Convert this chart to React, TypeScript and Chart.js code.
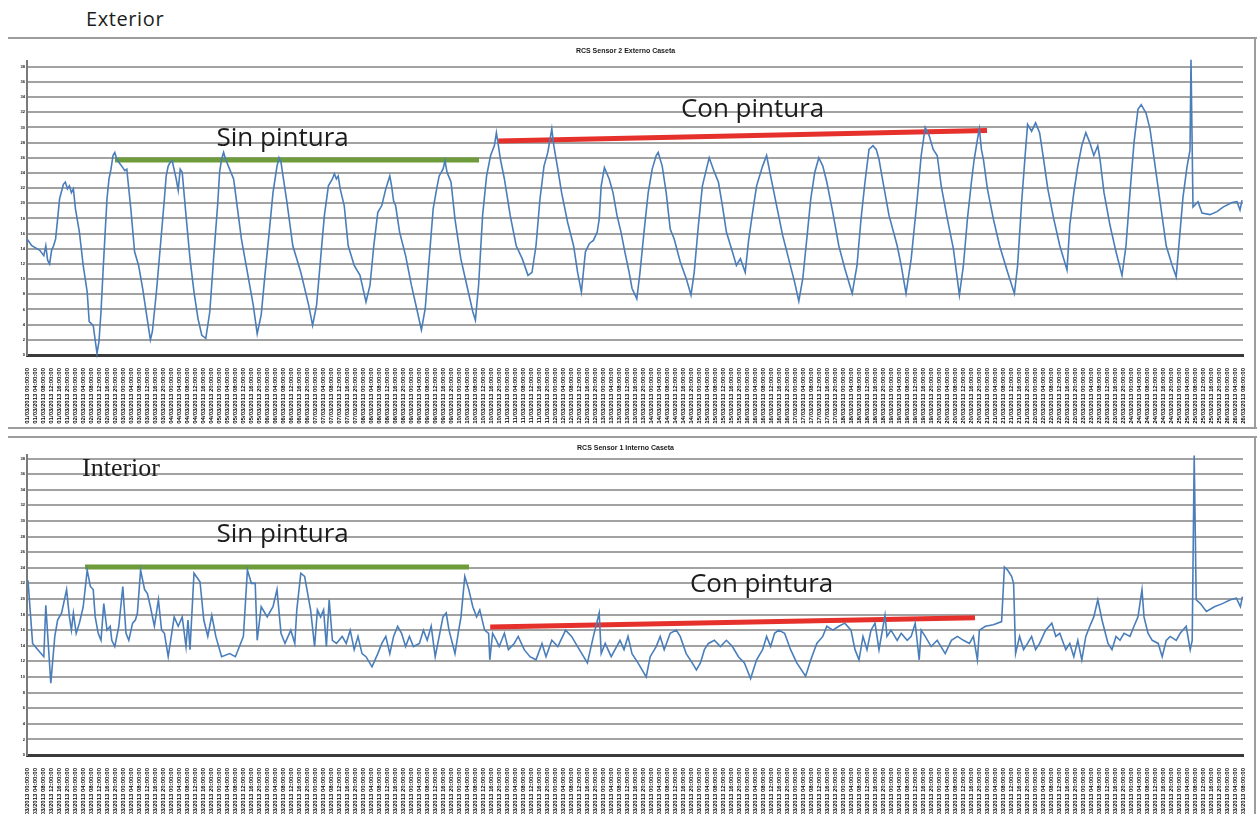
import React, { useEffect, useRef } from "react";
import { Chart, registerables } from "chart.js";

Chart.register(...registerables);

// ---------- data ----------
const extTitle = "RCS Sensor 2 Externo Caseta";
const intTitle = "RCS Sensor 1 Interno Caseta";

// exterior sensor: hour index, temperature
const extHours = [
  0, 2.4, 6.4, 8.4, 9.4, 10.3, 11.3, 12.3, 13.3, 14.3, 15.3, 16.3, 18.2, 19.2, 20.2, 21.2, 22.2, 23.2, 24.2, 26.2,
  28.1, 30.1, 31.1, 33.1, 35.0, 36.0, 37.0, 38.0, 39.0, 40.0, 41.0, 42.0, 43.0, 43.9, 44.9, 45.9, 47.9, 48.9, 49.9, 51.9,
  53.8, 55.8, 57.8, 59.8, 61.7, 62.7, 64.7, 66.7, 68.7, 69.6, 70.6, 71.6, 72.6, 74.6, 75.6, 76.6, 77.6, 79.5, 81.5, 83.5,
  85.5, 87.4, 89.4, 91.4, 93.4, 95.4, 96.3, 97.3, 98.3, 99.3, 101.3, 103.3, 104.2, 107.2, 110.2, 113.1, 115.1, 117.1, 119.1, 121.1,
  123.0, 125.0, 126.0, 127.0, 128.0, 130.0, 132.9, 136.9, 140.8, 142.8, 144.8, 146.8, 148.7, 150.7, 152.7, 153.7, 154.7, 155.6, 156.6, 158.6,
  160.6, 163.6, 166.5, 169.5, 171.5, 173.4, 175.4, 177.4, 179.4, 181.4, 182.3, 183.3, 184.3, 186.3, 189.3, 192.2, 195.2, 197.2, 199.1, 201.1,
  203.1, 205.1, 206.1, 208.0, 209.0, 210.0, 212.0, 214.0, 216.9, 219.9, 222.9, 224.2, 225.8, 227.8, 229.8, 231.8, 233.7, 234.7, 235.7, 236.7,
  238.7, 241.6, 244.6, 247.6, 250.5, 252.5, 254.5, 256.5, 258.5, 260.4, 262.4, 263.4, 265.4, 267.3, 270.3, 273.3, 275.3, 277.2, 279.2, 281.2,
  283.2, 285.1, 286.1, 287.1, 288.7, 291.1, 293.0, 295.0, 297.0, 299.0, 301.0, 302.5, 304.9, 306.5, 308.5, 310.6, 312.6, 314.6, 315.6, 317.6,
  319.6, 321.6, 323.6, 326.6, 329.6, 332.0, 333.6, 335.7, 337.7, 339.7, 341.1, 343.7, 345.7, 347.7, 349.7, 352.7, 354.7, 356.7, 359.1, 360.8,
  362.8, 364.8, 367.8, 369.8, 371.8, 374.8, 377.8, 380.8, 383.8, 385.9, 387.9, 389.9, 391.9, 393.9, 395.9, 397.9, 399.9, 402.9, 405.9, 408.9,
  412.6, 415.0, 417.0, 419.0, 421.0, 423.0, 424.6, 426.0, 428.0, 431.0, 435.1, 437.1, 439.5, 442.1, 445.1, 447.1, 449.1, 451.1, 453.1, 455.1,
  457.1, 460.2, 463.2, 466.2, 468.2, 470.2, 472.2, 473.6, 475.2, 476.2, 477.2, 478.2, 480.2, 483.2, 486.3, 490.3, 493.7, 495.3, 497.3, 499.3,
  500.3, 502.3, 504.3, 506.3, 508.3, 510.4, 513.4, 516.4, 520.0, 521.4, 523.4, 525.4, 527.4, 529.4, 531.4, 533.4, 535.4, 536.5, 538.5, 541.5,
  544.5, 547.5, 549.5, 551.5, 553.5, 555.5, 557.1, 559.5, 561.5, 563.6, 566.6, 569.6, 572.6, 574.6, 578.0, 580.0, 581.5, 582.0, 583.0, 585.5,
  587.5, 591.5, 595.0, 598.0, 602.5, 605.0, 606.5, 607.5,
];
const extTemps = [
  15.3, 14.4, 13.8, 13.1, 14.4, 12.5, 12.0, 13.8, 14.4, 15.3, 17.9, 20.6, 22.5, 22.8, 21.9, 22.3, 21.4, 21.9, 19.3, 16.2,
  11.8, 8.3, 4.4, 3.9, 0.2, 1.8, 5.7, 10.9, 15.8, 20.6, 23.2, 24.5, 26.3, 26.7, 25.8, 25.4, 24.7, 24.3, 24.5, 19.3,
  13.6, 11.8, 8.8, 5.3, 2.0, 3.1, 8.3, 14.4, 20.6, 23.6, 24.9, 25.4, 25.6, 23.2, 21.7, 24.5, 24.1, 18.4, 12.7, 8.3,
  4.8, 2.6, 2.2, 5.7, 13.1, 20.1, 24.1, 25.8, 26.7, 25.8, 24.5, 23.2, 21.4, 15.3, 10.9, 6.6, 2.8, 5.3, 10.9, 16.2,
  21.4, 24.9, 26.0, 25.4, 23.6, 20.1, 14.4, 10.9, 6.6, 3.9, 6.6, 12.7, 18.4, 22.3, 23.2, 23.9, 23.2, 23.6, 21.9, 19.7,
  14.4, 11.8, 10.5, 7.0, 9.2, 14.4, 18.8, 19.7, 21.9, 23.6, 22.3, 20.3, 19.7, 16.2, 13.1, 9.2, 5.7, 3.3, 6.1, 12.7,
  19.3, 22.3, 23.6, 24.5, 25.6, 24.1, 22.8, 17.9, 12.7, 9.2, 5.7, 4.6, 9.2, 18.4, 23.6, 26.3, 27.6, 29.3, 27.6, 25.8,
  23.2, 18.4, 14.4, 12.7, 10.5, 10.9, 14.4, 20.6, 24.9, 26.7, 29.8, 27.6, 24.5, 21.4, 17.5, 14.4, 10.9, 8.3, 13.6, 14.7,
  15.1, 16.2, 17.9, 22.3, 24.7, 23.2, 21.4, 18.4, 16.2, 13.5, 11.0, 8.8, 7.4, 10.9, 16.2, 21.4, 24.5, 26.3, 26.7, 24.9,
  21.4, 16.6, 15.3, 12.3, 10.1, 7.9, 10.9, 17.1, 22.3, 24.5, 26.0, 24.1, 22.8, 19.7, 16.2, 13.6, 11.8, 12.7, 10.9, 15.1,
  18.8, 22.3, 24.9, 26.3, 23.6, 19.7, 15.8, 12.7, 9.6, 7.1, 10.1, 15.3, 20.6, 24.1, 26.0, 24.9, 22.8, 18.8, 14.4, 11.4,
  8.1, 11.8, 17.9, 22.8, 27.1, 27.6, 27.1, 25.8, 22.8, 18.4, 14.4, 11.8, 8.1, 12.7, 20.6, 26.3, 30.0, 28.9, 27.1, 26.3,
  22.3, 17.9, 14.0, 7.9, 11.8, 17.9, 22.8, 25.8, 28.4, 29.8, 27.1, 25.8, 21.9, 17.9, 14.4, 10.9, 8.1, 11.8, 20.1, 27.1,
  30.4, 29.5, 30.6, 29.3, 25.8, 21.9, 17.9, 14.4, 11.2, 17.1, 21.4, 24.9, 27.6, 29.3, 28.0, 26.3, 27.6, 25.8, 21.4, 17.1,
  13.6, 10.5, 14.4, 21.4, 28.0, 32.4, 33.0, 31.9, 29.8, 25.8, 20.1, 14.4, 11.8, 10.3, 20.8, 24.8, 27.0, 38.9, 19.5, 20.2,
  18.7, 18.5, 18.9, 19.5, 20.1, 20.2, 19.1, 20.4,
];

// interior sensor: hour index, temperature
const intHours = [
  0.5, 2.8, 5.4, 8.4, 9.4, 11.9, 13.9, 15.3, 17.3, 19.8, 21.2, 22.2, 23.2, 24.6, 26.2, 28.1, 30.1, 31.7, 33.1, 34.1,
  35.6, 37.0, 38.4, 40.0, 41.6, 42.4, 43.9, 44.9, 45.9, 47.9, 49.5, 50.9, 52.8, 54.2, 55.2, 56.8, 58.8, 60.2, 61.7, 63.7,
  65.7, 67.3, 68.7, 70.6, 73.6, 75.6, 77.6, 79.5, 80.5, 81.5, 83.5, 86.5, 88.4, 90.4, 92.4, 94.4, 97.3, 101.3, 104.2, 106.2,
  108.2, 110.2, 112.2, 114.1, 115.1, 117.1, 120.1, 123.0, 125.0, 127.0, 129.0, 131.9, 133.9, 134.9, 136.9, 138.8, 141.8, 143.8, 145.2, 146.8,
  148.3, 149.7, 151.1, 152.7, 154.7, 157.6, 159.6, 161.6, 163.6, 165.5, 167.5, 169.5, 172.5, 175.4, 177.4, 179.4, 181.4, 183.3, 185.3, 187.3,
  189.3, 191.2, 193.2, 196.2, 198.2, 200.1, 202.1, 204.1, 206.1, 208.0, 209.6, 211.0, 214.0, 215.6, 217.0, 218.9, 220.9, 222.9, 224.8, 226.4,
  228.8, 230.8, 231.4, 232.8, 234.7, 236.1, 238.7, 240.7, 243.6, 245.6, 248.6, 251.5, 254.5, 257.5, 259.5, 262.4, 265.4, 269.3, 272.3, 275.3,
  280.2, 283.2, 286.1, 287.1, 289.1, 292.1, 296.5, 298.5, 300.5, 302.5, 305.5, 309.6, 311.6, 314.6, 316.6, 318.6, 321.6, 324.6, 326.6, 329.6,
  332.6, 334.7, 336.7, 338.7, 340.7, 343.7, 346.7, 349.7, 352.7, 355.7, 358.7, 361.8, 364.8, 367.8, 369.8, 371.8, 373.8, 375.8, 378.8, 381.8,
  384.9, 389.3, 391.9, 394.9, 397.9, 399.9, 402.9, 405.9, 408.9, 412.0, 414.0, 416.0, 418.0, 420.0, 422.0, 424.0, 426.0, 429.0, 430.0, 432.0,
  435.1, 437.1, 440.1, 442.1, 444.1, 446.1, 447.1, 449.1, 452.1, 455.1, 459.1, 462.2, 465.2, 468.2, 471.2, 473.2, 475.2, 476.2, 479.2, 483.2,
  487.3, 488.7, 490.3, 492.3, 493.3, 494.3, 496.3, 498.3, 500.3, 502.3, 504.3, 506.3, 509.3, 512.4, 514.4, 516.4, 519.4, 521.4, 523.4, 525.4,
  527.4, 529.4, 531.4, 533.4, 535.4, 537.5, 540.5, 542.5, 544.5, 546.5, 548.5, 551.5, 553.5, 555.5, 557.5, 558.5, 560.5, 562.6, 565.6, 567.6,
  569.6, 571.6, 574.6, 576.6, 579.6, 581.6, 582.6, 583.6, 584.6, 586.7, 589.7, 593.7, 597.7, 601.7, 604.7, 606.7, 607.7,
];
const intTemps = [
  22.4, 14.3, 13.5, 12.6, 19.2, 9.2, 15.2, 17.3, 18.2, 21.2, 17.7, 16.0, 18.2, 15.6, 16.9, 19.0, 23.7, 21.6, 21.2, 17.7,
  15.6, 14.7, 19.4, 16.0, 16.5, 14.7, 13.9, 15.2, 16.5, 21.6, 15.6, 14.7, 16.9, 17.3, 18.2, 23.7, 21.2, 20.7, 19.0, 16.5,
  19.9, 16.0, 15.6, 12.6, 17.7, 16.5, 17.7, 13.9, 17.3, 13.5, 23.3, 22.2, 17.3, 15.2, 17.9, 15.2, 12.6, 13.0, 12.6, 13.9,
  15.2, 23.7, 22.0, 22.0, 14.7, 19.0, 17.7, 19.0, 21.2, 15.6, 14.3, 16.0, 14.3, 18.6, 23.3, 22.9, 18.6, 13.9, 18.6, 17.7,
  18.6, 13.9, 19.9, 14.7, 14.3, 15.2, 14.3, 16.0, 13.5, 15.2, 13.0, 12.6, 11.3, 13.0, 14.3, 15.2, 13.0, 15.2, 16.5, 15.6,
  13.9, 15.2, 13.9, 14.3, 16.0, 14.7, 16.5, 12.6, 15.2, 17.7, 18.2, 16.0, 13.0, 15.6, 17.7, 22.9, 21.2, 19.0, 17.7, 18.6,
  16.0, 15.6, 12.2, 15.6, 14.7, 13.9, 15.6, 13.5, 14.3, 15.2, 13.5, 12.6, 12.2, 14.3, 12.6, 14.7, 13.9, 16.0, 15.2, 13.9,
  11.8, 15.2, 18.2, 13.0, 14.3, 12.6, 14.7, 13.5, 15.2, 13.0, 11.8, 10.0, 12.6, 13.9, 15.2, 13.5, 15.6, 16.0, 15.2, 13.0,
  11.8, 10.9, 11.8, 13.5, 14.3, 14.7, 13.9, 14.7, 13.9, 12.6, 11.8, 9.8, 12.2, 13.5, 15.2, 13.9, 15.6, 16.0, 15.6, 13.5,
  11.8, 10.1, 12.2, 14.3, 15.2, 16.5, 16.0, 16.5, 16.9, 16.0, 13.5, 12.2, 15.2, 13.5, 16.0, 16.9, 13.5, 17.9, 15.2, 16.0,
  14.7, 15.6, 14.7, 15.2, 16.9, 12.2, 16.0, 15.2, 13.9, 14.7, 13.0, 14.7, 15.2, 14.7, 14.3, 15.2, 12.2, 16.0, 16.5, 16.7,
  17.1, 24.1, 23.7, 22.9, 22.0, 13.0, 15.2, 13.5, 14.3, 15.2, 13.5, 14.3, 16.0, 16.9, 15.2, 15.6, 13.5, 14.3, 12.6, 14.7,
  12.2, 15.2, 16.5, 17.7, 19.9, 17.3, 14.3, 13.5, 15.2, 14.7, 15.6, 15.2, 16.5, 17.7, 21.2, 17.7, 15.6, 14.7, 14.3, 12.6,
  14.7, 15.2, 14.7, 15.6, 16.5, 13.5, 14.7, 38.4, 19.9, 19.4, 18.4, 19.0, 19.4, 19.9, 20.1, 19.0, 20.3,
];

// x-axis category labels (one every tickStepHours)
const labelDays = [
  "01/03/2013", "02/03/2013", "03/03/2013", "04/03/2013", "05/03/2013", "06/03/2013", "07/03/2013",
  "08/03/2013", "09/03/2013", "10/03/2013", "11/03/2013", "12/03/2013", "13/03/2013", "14/03/2013",
  "15/03/2013", "16/03/2013", "17/03/2013", "18/03/2013", "19/03/2013", "20/03/2013", "21/03/2013",
  "22/03/2013", "23/03/2013", "24/03/2013", "25/03/2013", "26/03/2013",
];
const labelTimes = ["00:00:00", "04:00:00", "08:00:00", "12:00:00", "16:00:00", "20:00:00"];
const tickStepHours = 4;
const xMaxHours = 608;

const xLabels = labelDays
  .flatMap((d) => labelTimes.map((t) => `${d} ${t}`))
  .slice(0, xMaxHours / tickStepHours + 1);

// annotations (in data units)
const extNotes = {
  lines: [
    { x1: 44, y1: 25.7, x2: 226, y2: 25.7, color: "#6e9c3a" },
    { x1: 235.6, y1: 28.2, x2: 480, y2: 29.6, color: "#e6302b" },
  ],
  texts: [
    { x: 127.8, y: 27.6, text: "Sin pintura", font: "26px 'Open Sans'", align: "center" },
    { x: 362.8, y: 31.4, text: "Con pintura", font: "26px 'Open Sans'", align: "center" },
  ],
};
const intNotes = {
  lines: [
    { x1: 29, y1: 24.1, x2: 221, y2: 24.1, color: "#6e9c3a" },
    { x1: 231.6, y1: 16.4, x2: 474, y2: 17.6, color: "#e6302b" },
  ],
  texts: [
    { x: 27.5, y: 35.7, text: "Interior", font: "26px 'Liberation Serif'", align: "left" },
    { x: 127.8, y: 27.3, text: "Sin pintura", font: "26px 'Open Sans'", align: "center" },
    { x: 367.3, y: 20.9, text: "Con pintura", font: "26px 'Open Sans'", align: "center" },
  ],
};

// ---------- chart helpers ----------
type Notes = typeof intNotes;

function makeNotesPlugin(notes: Notes) {
  return {
    id: "notes",
    beforeDatasetsDraw(chart: any) {
      const { ctx } = chart;
      const x = chart.scales.x;
      const y = chart.scales.y;
      ctx.save();
      ctx.lineCap = "butt";
      for (const l of notes.lines) {
        ctx.beginPath();
        ctx.strokeStyle = l.color;
        ctx.lineWidth = 5;
        ctx.moveTo(x.getPixelForValue(l.x1), y.getPixelForValue(l.y1));
        ctx.lineTo(x.getPixelForValue(l.x2), y.getPixelForValue(l.y2));
        ctx.stroke();
      }
      ctx.restore();
    },
    afterDatasetsDraw(chart: any) {
      const { ctx } = chart;
      const x = chart.scales.x;
      const y = chart.scales.y;
      ctx.save();
      for (const t of notes.texts) {
        ctx.font = t.font;
        ctx.fillStyle = "#1c1c1c";
        ctx.textAlign = t.align as CanvasTextAlign;
        ctx.textBaseline = "alphabetic";
        ctx.fillText(t.text, x.getPixelForValue(t.x), y.getPixelForValue(t.y));
      }
      ctx.restore();
    },
  };
}

function buildChart(
  canvas: HTMLCanvasElement,
  hours: number[],
  temps: number[],
  title: string,
  yMax: number,
  titlePad: { top: number; bottom: number },
  xAxisHeight: number,
  notes: Notes
) {
  const points = hours.map((h, i) => ({ x: h, y: temps[i] }));
  return new Chart(canvas, {
    type: "line",
    data: {
      datasets: [
        {
          data: points,
          borderColor: "#4a7ebb",
          borderWidth: 1.6,
          pointRadius: 0,
          tension: 0,
          fill: false,
          clip: false as any,
        },
      ],
    },
    options: {
      responsive: false,
      animation: false,
      devicePixelRatio: 1,
      layout: { padding: { top: 0, right: 14, bottom: 0, left: 0 } },
      plugins: {
        legend: { display: false },
        tooltip: { enabled: false },
        title: {
          display: true,
          text: title,
          color: "#1a1a1a",
          font: { size: 7, weight: "bold", family: "'Liberation Sans', Arial" },
          padding: titlePad,
        },
      },
      scales: {
        x: {
          type: "linear",
          min: 0,
          max: xMaxHours,
          afterBuildTicks: (scale: any) => {
            scale.ticks = xLabels.map((_, i) => ({ value: i * tickStepHours }));
          },
          afterFit: (scale: any) => {
            scale.height = xAxisHeight;
          },
          grid: { display: false },
          border: { display: true, color: "#3a3a3a", width: 3 },
          ticks: {
            autoSkip: false,
            minRotation: 90,
            maxRotation: 90,
            padding: 5,
            color: "#000000",
            font: { size: 6, weight: "bold", family: "'Liberation Sans', Arial" },
            callback: (_v: any, i: number) => xLabels[i],
          },
        },
        y: {
          min: 0,
          max: yMax,
          afterFit: (scale: any) => {
            scale.width = 19;
          },
          grid: { color: "#a2a2a2", lineWidth: 2, drawTicks: false },
          border: { display: true, color: "#7a7a7a", width: 2 },
          ticks: {
            stepSize: 2,
            includeBounds: false,
            padding: 2,
            color: "#222",
            font: { size: 4, weight: "bold", family: "'Liberation Sans', Arial" },
          },
        },
      },
    },
    plugins: [makeNotesPlugin(notes)],
  } as any);
}

// ---------- component ----------
export default function App() {
  const extRef = useRef<HTMLCanvasElement | null>(null);
  const intRef = useRef<HTMLCanvasElement | null>(null);

  useEffect(() => {
    const c1 = buildChart(extRef.current!, extHours, extTemps, extTitle, 38.7, { top: 7, bottom: 6 }, 73, extNotes);
    const c2 = buildChart(intRef.current!, intHours, intTemps, intTitle, 38.45, { top: 7, bottom: 2.6 }, 70, intNotes);
    return () => {
      c1.destroy();
      c2.destroy();
    };
  }, []);

  const line = (left: number, top: number, width: number, height: number): React.CSSProperties => ({
    position: "absolute",
    left,
    top,
    width,
    height,
    background: "#9d9d9d",
  });

  return (
    <div
      style={{
        position: "fixed",
        left: 0,
        top: 0,
        width: 1257,
        height: 814,
        overflow: "hidden",
        background: "#ffffff",
      }}
    >
      <div
        style={{
          position: "absolute",
          left: 86,
          top: 9,
          fontFamily: "'Open Sans', sans-serif",
          fontSize: 20,
          lineHeight: "20px",
          letterSpacing: 0.6,
          color: "#1c1c1c",
        }}
      >
        Exterior
      </div>
      <div style={line(8, 37, 1249, 2)} />
      <div style={line(1254, 37, 2, 391)} />
      <div style={line(8, 427, 1249, 2)} />
      <div style={line(8, 436, 1249, 2)} />
      <div style={line(1254, 436, 2, 378)} />
      <canvas
        ref={extRef}
        width={1249}
        height={388}
        style={{ position: "absolute", left: 8, top: 40, width: 1249, height: 388 }}
      />
      <canvas
        ref={intRef}
        width={1249}
        height={388}
        style={{ position: "absolute", left: 8, top: 437, width: 1249, height: 388 }}
      />
    </div>
  );
}
